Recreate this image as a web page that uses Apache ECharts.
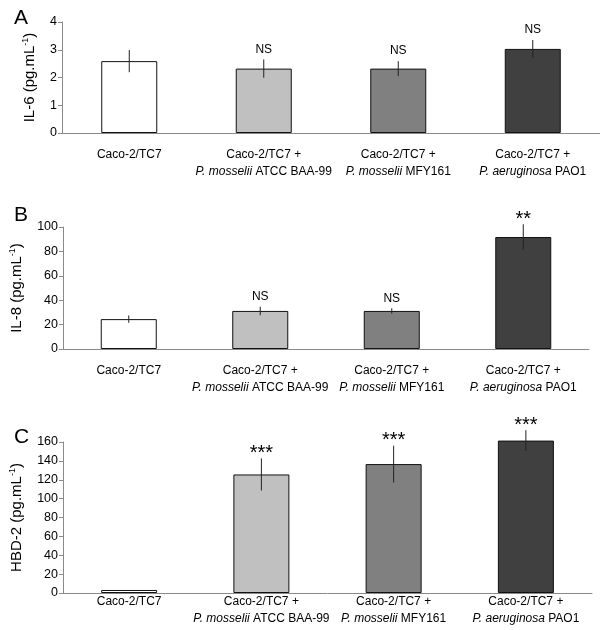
<!DOCTYPE html>
<html>
<head>
<meta charset="utf-8">
<script src="https://cdn.jsdelivr.net/npm/echarts@6/dist/echarts.min.js"></script>
<style>html,body{margin:0;padding:0;background:#fff;}#c{width:600px;height:630px;}</style>
</head>
<body>
<div id="c"></div>
<script>
const categories = [
  'Caco-2/TC7',
  'Caco-2/TC7 +\n{i|P. mosselii} ATCC BAA-99',
  'Caco-2/TC7 +\n{i|P. mosselii} MFY161',
  'Caco-2/TC7 +\n{i|P. aeruginosa} PAO1'
];
const barColors = ['#ffffff', '#c0c0c0', '#808080', '#404040'];

const il6Mean = [2.59, 2.32, 2.32, 3.03];
const il6Err = [0.40, 0.33, 0.27, 0.32];
const il6Sig = ['', 'NS', 'NS', 'NS'];

const il8Mean = [24.5, 31.2, 31.2, 91.8];
const il8Err = [3.0, 3.5, 2.2, 10.4];
const il8Sig = ['', 'NS', 'NS', '**'];

const hbdMean = [3.2, 125.6, 136.6, 161.5];
const hbdErr = [0, 17, 19.5, 11];
const hbdSig = ['', '***', '***', '***'];

const panels = [
  {letter: 'A', name: 'IL-6 (pg.mL{sup|-1})', mean: il6Mean, err: il6Err, sig: il6Sig, max: 4, interval: 1,
   grid: {left: 62, right: 0, top: 22, height: 111}, nameGap: 21, labelMargin: 13, letterTop: 3},
  {letter: 'B', name: 'IL-8 (pg.mL{sup|-1})', mean: il8Mean, err: il8Err, sig: il8Sig, max: 100, interval: 20,
   grid: {left: 60, right: 11, top: 227, height: 122}, nameGap: 37, labelMargin: 13, letterTop: 200},
  {letter: 'C', name: 'HBD-2 (pg.mL{sup|-1})', mean: hbdMean, err: hbdErr, sig: hbdSig, max: 160, interval: 20,
   grid: {left: 62, right: 8, top: 442, height: 151}, nameGap: 37, labelMargin: 0, letterTop: 422}
];

const FONT = '"Liberation Sans", Arial, sans-serif';
const option = {
  animation: false,
  backgroundColor: '#fff',
  title: [], grid: [], xAxis: [], yAxis: [], series: []
};

panels.forEach((p, k) => {
  option.title.push({text: p.letter, left: 9, top: p.letterTop,
    textStyle: {fontFamily: FONT, fontSize: 21, fontWeight: 'normal', color: '#000'}});
  option.grid.push(Object.assign({containLabel: false}, p.grid));
  option.xAxis.push({
    type: 'category', gridIndex: k, data: categories,
    axisLine: {show: true, lineStyle: {color: '#8a8a8a', width: 1}},
    axisTick: {show: false},
    splitLine: {show: false},
    axisLabel: {interval: 0, margin: p.labelMargin, color: '#000', fontFamily: FONT, fontSize: 12, lineHeight: 17,
      rich: {i: {fontStyle: 'italic', fontFamily: FONT, fontSize: 12, lineHeight: 17, color: '#000'}}}
  });
  option.yAxis.push({
    type: 'value', gridIndex: k, min: 0, max: p.max, interval: p.interval,
    name: p.name, nameLocation: 'middle', nameGap: p.nameGap,
    nameTextStyle: {fontFamily: FONT, fontSize: 15, color: '#000', lineHeight: 18,
      rich: {sup: {fontFamily: FONT, fontSize: 9, verticalAlign: 'top', lineHeight: 18, color: '#000'}}},
    axisLine: {show: true, lineStyle: {color: '#8a8a8a', width: 1}},
    axisTick: {show: true, length: 4, inside: false, lineStyle: {color: '#8a8a8a'}},
    splitLine: {show: false},
    axisLabel: {color: '#000', fontFamily: FONT, fontSize: 12.5, margin: 5}
  });
  option.series.push({
    type: 'bar', xAxisIndex: k, yAxisIndex: k, barWidth: 56, clip: false,
    data: p.mean.map((v, i) => ({value: v, itemStyle: {color: barColors[i], borderColor: '#111', borderWidth: 1}}))
  });
  const sig = p.sig;
  option.series.push({
    type: 'custom', xAxisIndex: k, yAxisIndex: k, clip: false, z: 5,
    data: p.mean.map((v, i) => [i, v, p.err[i]]),
    encode: {x: 0, y: 1},
    renderItem: function (params, api) {
      const i = api.value(0), m = api.value(1), e = api.value(2);
      const top = api.coord([i, m + e]);
      const bot = api.coord([i, m - e]);
      const children = [];
      if (e > 0) {
        children.push({type: 'line', shape: {x1: top[0], y1: top[1], x2: bot[0], y2: bot[1]},
          style: {stroke: '#222', lineWidth: 1}});
      }
      const s = sig[i];
      if (s) {
        const isNS = s === 'NS';
        children.push({type: 'text', style: {text: s, x: top[0], y: top[1] - (isNS ? 10 : 5),
          align: 'center', verticalAlign: 'middle',
          font: (isNS ? '12px ' : '20px ') + FONT, fill: '#000'}});
      }
      return {type: 'group', children: children};
    }
  });
});

const chart = echarts.init(document.getElementById('c'), null, {renderer: 'canvas'});
chart.setOption(option);
</script>
</body>
</html>
